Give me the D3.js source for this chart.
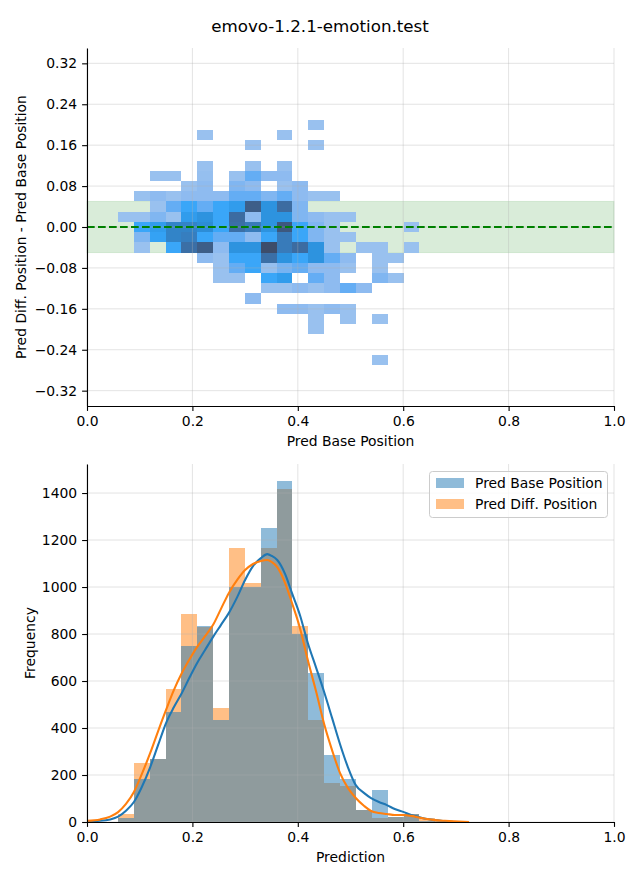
<!DOCTYPE html>
<html><head><meta charset="utf-8">
<script src="https://cdn.jsdelivr.net/npm/d3@7"></script>
<style>body{margin:0;background:#fff} text{font-family:"DejaVu Sans",sans-serif;fill:#000}</style>
</head><body><svg id="c" width="640" height="880"></svg>
<script>
// ---------------- data ----------------
const chartTitle = "emovo-1.2.1-emotion.test";
const xTicks = [0, 0.2, 0.4, 0.6, 0.8, 1.0];
const diffTicks = [0.32, 0.24, 0.16, 0.08, 0, -0.08, -0.16, -0.24, -0.32];
const freqTicks = [0, 200, 400, 600, 800, 1000, 1200, 1400];
const seriesNames = ["Pred Base Position", "Pred Diff. Position"];
const binStart = 0.0588, binWidth = 0.0301;   // histogram / heatmap x bins
const heatBinHeight = 0.02;                  // heatmap y bins
const bandLimits = [-0.05, 0.05];
const heatRowY = [0.20, 0.18, 0.16, 0.14, 0.12, 0.10, 0.08, 0.06, 0.04, 0.02, 0.00,
  -0.02, -0.04, -0.06, -0.08, -0.10, -0.12, -0.14, -0.16, -0.18, -0.20, -0.22, -0.24, -0.26];
const heatCounts = [
  [0,0,0,0,0,0,0,0,0,0,0,0,3,0,0,0,0,0,0,0],
  [0,0,0,0,0,3,0,0,0,0,3,0,0,0,0,0,0,0,0,0],
  [0,0,0,0,0,0,0,0,3,0,0,0,3,0,0,0,0,0,0,0],
  [0,0,0,0,0,0,0,0,0,0,0,0,0,0,0,0,0,0,0,0],
  [0,0,0,0,0,3,0,0,3,0,3,0,0,0,0,0,0,0,0,0],
  [0,0,3,3,0,5,0,3,22,8,8,0,0,0,0,0,0,0,0,0],
  [0,0,0,0,3,8,0,13,8,0,3,8,0,0,0,0,0,0,0,0],
  [0,3,8,3,8,8,8,22,22,13,22,8,3,3,0,0,0,0,0,0],
  [0,0,3,22,38,22,38,46,88,52,78,13,0,0,0,0,0,0,0,0],
  [3,3,13,3,46,52,38,78,8,52,52,13,8,3,3,0,0,0,0,0],
  [0,38,46,62,62,56,38,76,68,52,92,38,13,3,0,0,0,0,3,0],
  [0,13,42,62,66,38,22,22,8,38,68,38,13,3,3,0,0,0,0,0],
  [0,3,0,38,76,88,8,52,52,100,68,78,52,3,0,3,3,0,3,0],
  [0,0,0,0,0,8,3,38,38,76,52,38,52,22,8,0,3,3,0,0],
  [0,0,0,0,0,0,3,22,38,5,16,22,8,8,3,0,3,0,0,0],
  [0,0,0,0,0,0,3,3,0,38,46,0,22,8,0,0,13,3,0,0],
  [0,0,0,0,0,0,0,0,0,3,3,8,3,8,22,8,0,0,0,0],
  [0,0,0,0,0,0,0,0,8,0,0,0,0,0,0,0,0,0,0,0],
  [0,0,0,0,0,0,0,0,0,0,8,8,3,8,3,0,0,0,0,0],
  [0,0,0,0,0,0,0,0,0,0,0,0,3,0,3,0,3,0,0,0],
  [0,0,0,0,0,0,0,0,0,0,0,0,3,0,0,0,0,0,0,0],
  [0,0,0,0,0,0,0,0,0,0,0,0,0,0,0,0,0,0,0,0],
  [0,0,0,0,0,0,0,0,0,0,0,0,0,0,0,0,0,0,0,0],
  [0,0,0,0,0,0,0,0,0,0,0,0,0,0,0,0,3,0,0,0]
];
const baseCounts = [16,183,268,469,749,835,435,1000,1000,1251,1451,800,634,285,183,51,136,20,34,3,0,0];
const diffCounts = [33,250,268,566,885,830,485,1166,1017,1166,1417,834,435,167,153,50,19,20,32,16,4,4];
const kdeX = [0.000,0.025,0.044,0.059,0.074,0.089,0.104,0.120,0.135,0.150,0.165,0.180,0.195,0.209,
  0.224,0.239,0.254,0.269,0.285,0.300,0.315,0.330,0.342,0.351,0.361,0.376,0.389,0.404,0.419,0.435,
  0.450,0.465,0.480,0.495,0.510,0.526,0.539,0.554,0.569,0.584,0.600,0.615,0.630,0.645,0.660,0.679,
  0.696,0.725];
const kdeBase = [3,5,11,23,48,85,149,234,328,421,489,549,617,677,732,787,838,889,957,1030,1089,
  1123,1140,1132,1115,1055,974,881,762,655,553,443,332,234,157,123,102,85,72,55,43,30,21,13,8,4,0];
const kdeDiff = [5,11,23,42,77,128,204,294,387,477,562,634,694,745,791,838,906,974,1030,1072,1098,
  1111,1115,1106,1085,1017,932,826,689,553,417,306,209,145,102,68,47,38,34,30,30,26,19,13,8,5,3,0];

// ---------------- drawing ----------------
const svg = d3.select("#c");
const L = 87, R = 614;
const blue = "#1f77b4", orange = "#ff7f0e";
const gridStyle = g => g.attr("stroke", "#b0b0b0").attr("stroke-opacity", 0.45).attr("stroke-width", 0.8);

svg.append("text").attr("x", 320).attr("y", 32).attr("text-anchor", "middle")
  .style("font-size", "16.7px").text(chartTitle);

function styleAxis(g) {
  g.selectAll("text").style("font-size", "13.9px").style("font-family", "DejaVu Sans");
  g.selectAll("line").attr("stroke", "#000").attr("stroke-width", 1.1);
  g.select(".domain").attr("stroke", "#000").attr("stroke-width", 1.1);
}

// ===== top panel =====
const T1 = 48, B1 = 406;
const x1 = d3.scaleLinear([0, 1], [L, R]);
const y1 = d3.scaleLinear([-0.35, 0.35], [B1, T1]);
const topG = svg.append("g");

topG.append("rect").attr("x", L).attr("width", R - L)
  .attr("y", y1(bandLimits[1])).attr("height", y1(bandLimits[0]) - y1(bandLimits[1]))
  .attr("fill", "green").attr("fill-opacity", 0.15)
  .attr("stroke", "green").attr("stroke-opacity", 0.12).attr("stroke-width", 1);

const heatColor = d3.scaleLinear()
  .domain([0, 0.1, 0.25, 0.4, 0.55, 0.7, 0.85, 1])
  .range(["#a0c4ee", "#8ab9f0", "#5aaaf5", "#35a5f8", "#2b8fd9", "#3a78b5", "#3d6290", "#3d4d6a"]);
const heatMax = d3.max(heatCounts.flat());
const cells = [];
heatRowY.forEach((yc, r) => heatCounts[r].forEach((c, k) => { if (c > 0) cells.push({ yc, k, c }); }));
topG.selectAll("rect.cell").data(cells).enter().append("rect").attr("class", "cell")
  .attr("x", d => x1(binStart + d.k * binWidth))
  .attr("width", d => x1(binStart + (d.k + 1) * binWidth) - x1(binStart + d.k * binWidth))
  .attr("y", d => y1(d.yc + heatBinHeight / 2))
  .attr("height", d => y1(d.yc - heatBinHeight / 2) - y1(d.yc + heatBinHeight / 2))
  .attr("fill", d => heatColor(d.c / heatMax))
  .attr("shape-rendering", "crispEdges");

// grid
const g1 = topG.append("g");
g1.selectAll("line.v").data(xTicks).enter().append("line")
  .attr("x1", d => x1(d)).attr("x2", d => x1(d)).attr("y1", T1).attr("y2", B1).call(gridStyle);
g1.selectAll("line.h").data(diffTicks).enter().append("line")
  .attr("x1", L).attr("x2", R).attr("y1", d => y1(d)).attr("y2", d => y1(d)).call(gridStyle);

topG.append("line").attr("x1", L).attr("x2", R).attr("y1", y1(0)).attr("y2", y1(0))
  .attr("stroke", "green").attr("stroke-width", 2.08).attr("stroke-dasharray", "7.7,3.3");

topG.append("g").attr("transform", `translate(0,${B1})`)
  .call(d3.axisBottom(x1).tickValues(xTicks).tickFormat(d3.format(".1f")).tickSize(4.9).tickPadding(4.9).tickSizeOuter(0))
  .call(styleAxis);
topG.append("g").attr("transform", `translate(${L},0)`)
  .call(d3.axisLeft(y1).tickValues(diffTicks).tickFormat(d3.format(".2f")).tickSize(4.9).tickPadding(4.9).tickSizeOuter(0))
  .call(styleAxis);
topG.append("text").attr("x", (L + R) / 2).attr("y", 446).attr("text-anchor", "middle")
  .style("font-size", "13.9px").text("Pred Base Position");
topG.append("text").attr("transform", `translate(26,${(T1 + B1) / 2}) rotate(-90)`).attr("text-anchor", "middle")
  .style("font-size", "13.9px").text("Pred Diff. Position - Pred Base Position");

// ===== bottom panel =====
const T2 = 464, B2 = 822;
const x2 = d3.scaleLinear([0, 1], [L, R]);
const y2 = d3.scaleLinear([0, d3.max(baseCounts.concat(diffCounts)) * 1.05], [B2, T2]);
const botG = svg.append("g");

function bars(counts, color) {
  botG.append("g").selectAll("rect").data(counts.map((c, k) => ({ c, k })).filter(d => d.c > 0))
    .enter().append("rect")
    .attr("x", d => x2(binStart + d.k * binWidth))
    .attr("width", d => x2(binStart + (d.k + 1) * binWidth) - x2(binStart + d.k * binWidth))
    .attr("y", d => y2(d.c)).attr("height", d => y2(0) - y2(d.c))
    .attr("fill", color).attr("fill-opacity", 0.5).attr("shape-rendering", "crispEdges");
}
bars(diffCounts, orange);
bars(baseCounts, blue);

const g2 = botG.append("g");
g2.selectAll("line.v").data(xTicks).enter().append("line")
  .attr("x1", d => x2(d)).attr("x2", d => x2(d)).attr("y1", T2).attr("y2", B2).call(gridStyle);
g2.selectAll("line.h").data(freqTicks).enter().append("line")
  .attr("x1", L).attr("x2", R).attr("y1", d => y2(d)).attr("y2", d => y2(d)).call(gridStyle);

const line = d3.line().x(d => x2(d[0])).y(d => y2(d[1])).curve(d3.curveMonotoneX);
botG.append("path").datum(kdeBase.map((v, i) => [kdeX[i], v])).attr("d", line)
  .attr("fill", "none").attr("stroke", blue).attr("stroke-width", 2.08);
botG.append("path").datum(kdeDiff.map((v, i) => [kdeX[i], v])).attr("d", line)
  .attr("fill", "none").attr("stroke", orange).attr("stroke-width", 2.08);

botG.append("g").attr("transform", `translate(0,${B2})`)
  .call(d3.axisBottom(x2).tickValues(xTicks).tickFormat(d3.format(".1f")).tickSize(4.9).tickPadding(4.9).tickSizeOuter(0))
  .call(styleAxis);
botG.append("g").attr("transform", `translate(${L},0)`)
  .call(d3.axisLeft(y2).tickValues(freqTicks).tickFormat(d3.format("d")).tickSize(4.9).tickPadding(4.9).tickSizeOuter(0))
  .call(styleAxis);
botG.append("text").attr("x", (L + R) / 2).attr("y", 862).attr("text-anchor", "middle")
  .style("font-size", "13.9px").text("Prediction");
botG.append("text").attr("transform", `translate(35,${(T2 + B2) / 2}) rotate(-90)`).attr("text-anchor", "middle")
  .style("font-size", "13.9px").text("Frequency");

// legend
const lg = botG.append("g");
lg.append("rect").attr("x", 429.5).attr("y", 471.5).attr("width", 178).attr("height", 46).attr("rx", 3)
  .attr("fill", "#fff").attr("fill-opacity", 0.8).attr("stroke", "#cccccc");
[blue, orange].forEach((col, i) => {
  lg.append("rect").attr("x", 436).attr("y", 478 + i * 21).attr("width", 28).attr("height", 10)
    .attr("fill", col).attr("fill-opacity", 0.5);
  lg.append("text").attr("x", 475).attr("y", 488 + i * 21).style("font-size", "13.9px").text(seriesNames[i]);
});
</script></body></html>
